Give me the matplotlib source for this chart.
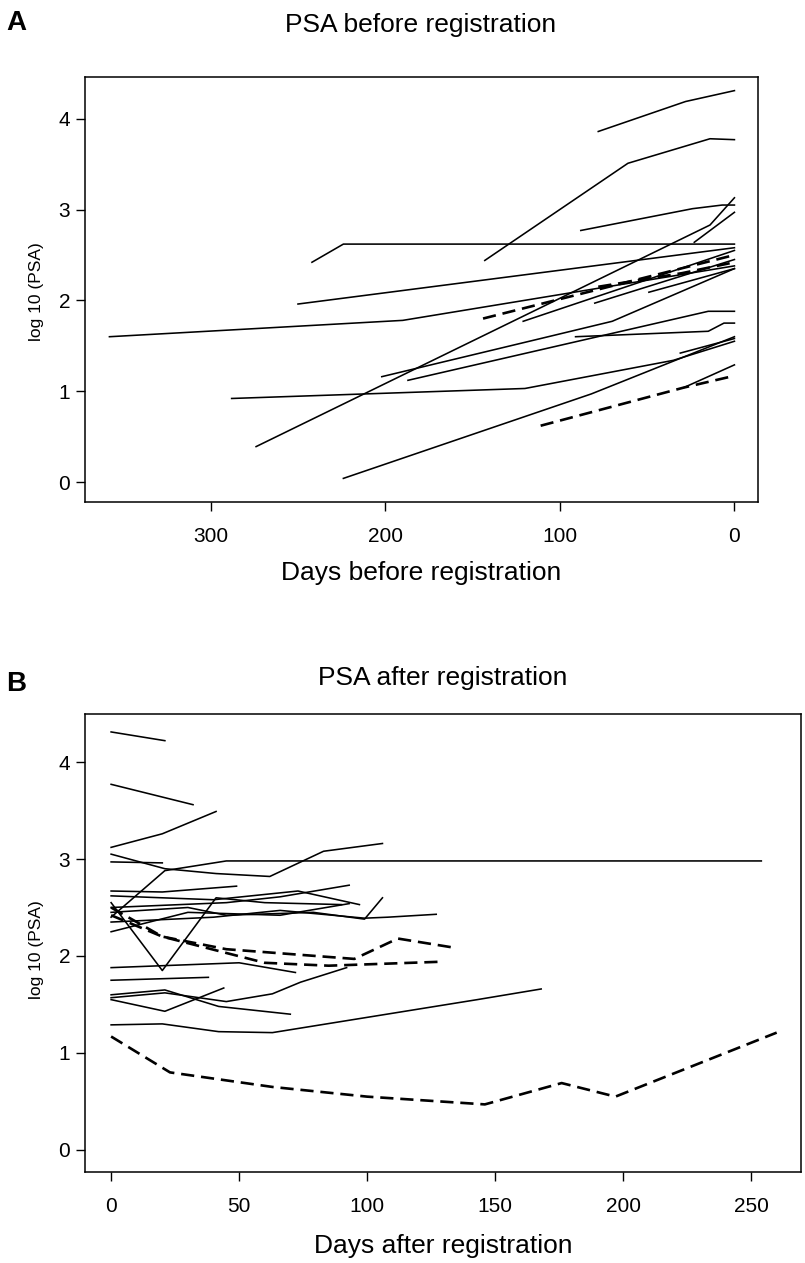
import matplotlib
matplotlib.use("Agg")
import matplotlib.pyplot as plt

plt.rcParams['font.family'] = ['Liberation Sans', 'DejaVu Sans']

# ---------------- Panel A data: days before registration, log10(PSA) ----------------
a_days = [
    [78, 28, 0],
    [143, 61, 14, 0],
    [88, 24, 7, 0],
    [274, 14, 0],
    [23, 0],
    [242, 224, 0],
    [250, 0],
    [358, 190, 0],
    [144, 0],
    [78, 30, 0],
    [202, 111, 70, 0],
    [187, 15, 0],
    [91, 15, 6, 0],
    [288, 120, 35, 0],
    [224, 82, 0],
    [31, 0],
    [29, 0],
    [111, 29, 0],
    [121, 0],
    [80, 0],
    [49, 0],
]
a_vals = [
    [3.86, 4.19, 4.31],
    [2.44, 3.51, 3.78, 3.77],
    [2.77, 3.01, 3.05, 3.05],
    [0.39, 2.83, 3.13],
    [2.64, 2.97],
    [2.42, 2.62, 2.62],
    [1.96, 2.58],
    [1.60, 1.78, 2.38],
    [1.80, 2.50],
    [2.15, 2.30, 2.42],
    [1.16, 1.58, 1.77, 2.35],
    [1.12, 1.88, 1.88],
    [1.60, 1.66, 1.75, 1.75],
    [0.92, 1.03, 1.34, 1.55],
    [0.04, 0.97, 1.60],
    [1.42, 1.58],
    [1.04, 1.29],
    [0.62, 1.04, 1.17],
    [1.77, 2.55],
    [1.97, 2.45],
    [2.09, 2.35],
]
a_dashed = [False] * len(a_days)
for i in (8, 9, 17):
    a_dashed[i] = True

# ---------------- Panel B data: days after registration, log10(PSA) ----------------
b_days = [
    [0, 21],
    [0, 32],
    [0, 20, 41],
    [0, 21, 41, 62, 83, 106],
    [0, 21, 45, 254],
    [0, 20],
    [0, 20, 41, 60, 90],
    [0, 20, 49],
    [0, 20, 40, 73, 97],
    [0, 45, 66, 93],
    [0, 30, 45, 79, 99, 106],
    [0, 40, 66, 99, 108, 127],
    [0, 30, 66, 93],
    [0, 20, 45, 95, 112, 133],
    [0, 20, 60, 85, 128],
    [0, 50, 72],
    [0, 38],
    [0, 21, 42, 70],
    [0, 21, 44],
    [0, 21, 45, 63, 74, 92],
    [0, 20, 42, 63, 143, 168],
    [0, 23, 63, 100, 146, 176, 197, 260],
]
b_vals = [
    [4.31, 4.22],
    [3.77, 3.56],
    [3.12, 3.26, 3.49],
    [3.05, 2.90, 2.85, 2.82, 3.08, 3.16],
    [2.40, 2.88, 2.98, 2.98],
    [2.97, 2.96],
    [2.55, 1.85, 2.60, 2.55, 2.53],
    [2.67, 2.66, 2.72],
    [2.62, 2.60, 2.58, 2.67, 2.53],
    [2.50, 2.55, 2.61, 2.73],
    [2.45, 2.50, 2.42, 2.45, 2.38, 2.60],
    [2.35, 2.40, 2.47, 2.39, 2.40, 2.43],
    [2.25, 2.45, 2.42, 2.54],
    [2.50, 2.20, 2.07, 1.97, 2.18, 2.09],
    [2.42, 2.20, 1.93, 1.90, 1.94],
    [1.88, 1.93, 1.83],
    [1.75, 1.78],
    [1.60, 1.65, 1.48, 1.40],
    [1.55, 1.43, 1.67],
    [1.57, 1.62, 1.53, 1.61, 1.73, 1.88],
    [1.29, 1.30, 1.22, 1.21, 1.55, 1.66],
    [1.17, 0.80, 0.65, 0.55, 0.47, 0.69, 0.55, 1.21],
]
b_dashed = [False] * len(b_days)
for i in (13, 14, 21):
    b_dashed[i] = True

a_xticks = [300, 200, 100, 0]
b_xticks = [0, 50, 100, 150, 200, 250]
y_ticks = [0, 1, 2, 3, 4]

# ---------------- Figure ----------------
W, H = 805, 1263
fig = plt.figure(figsize=(W / 100, H / 100), dpi=100)


def frac_box(l, r, t, b):
    return [l / W, 1 - b / H, (r - l) / W, (b - t) / H]


def draw(ax, days, vals, dashed):
    for d, v, ds in zip(days, vals, dashed):
        if ds:
            ax.plot(d, v, color='black', lw=1.9, linestyle=(0, (5, 2.6)),
                    solid_capstyle='butt', dash_capstyle='butt')
        else:
            ax.plot(d, v, color='black', lw=1.15)


def style(ax):
    for s in ax.spines.values():
        s.set_linewidth(1.1)
    ax.tick_params(direction='out', length=6.7, width=1.0, labelsize=15, pad=4)
    ax.set_yticks(y_ticks)


axA = fig.add_axes(frac_box(85, 758, 77, 502))
draw(axA, a_days, a_vals, a_dashed)
axA.set_xlim(372, -13.5)
axA.set_ylim(-0.22, 4.46)
axA.set_xticks(a_xticks)
style(axA)
axA.tick_params(axis='x', pad=11)

axB = fig.add_axes(frac_box(85, 801, 714, 1172))
draw(axB, b_days, b_vals, b_dashed)
axB.set_xlim(-10.2, 269.5)
axB.set_ylim(-0.227, 4.495)
axB.set_xticks(b_xticks)
style(axB)
axB.tick_params(axis='x', pad=11)


def ftext(x, y, s, **kw):
    fig.text(x / W, 1 - y / H, s, **kw)


ftext(421, 25, 'PSA before registration', ha='center', va='center', fontsize=19)
ftext(421, 573, 'Days before registration', ha='center', va='center', fontsize=19)
ftext(36, 292, 'log 10 (PSA)', ha='center', va='center', rotation=90, fontsize=12.5)
ftext(16, 23, 'A', ha='center', va='center', fontsize=20, fontweight='bold')

ftext(443, 678, 'PSA after registration', ha='center', va='center', fontsize=19)
ftext(443, 1246, 'Days after registration', ha='center', va='center', fontsize=19)
ftext(36, 950, 'log 10 (PSA)', ha='center', va='center', rotation=90, fontsize=12.5)
ftext(16, 684, 'B', ha='center', va='center', fontsize=20, fontweight='bold')

fig.savefig('out.png', dpi=100)
